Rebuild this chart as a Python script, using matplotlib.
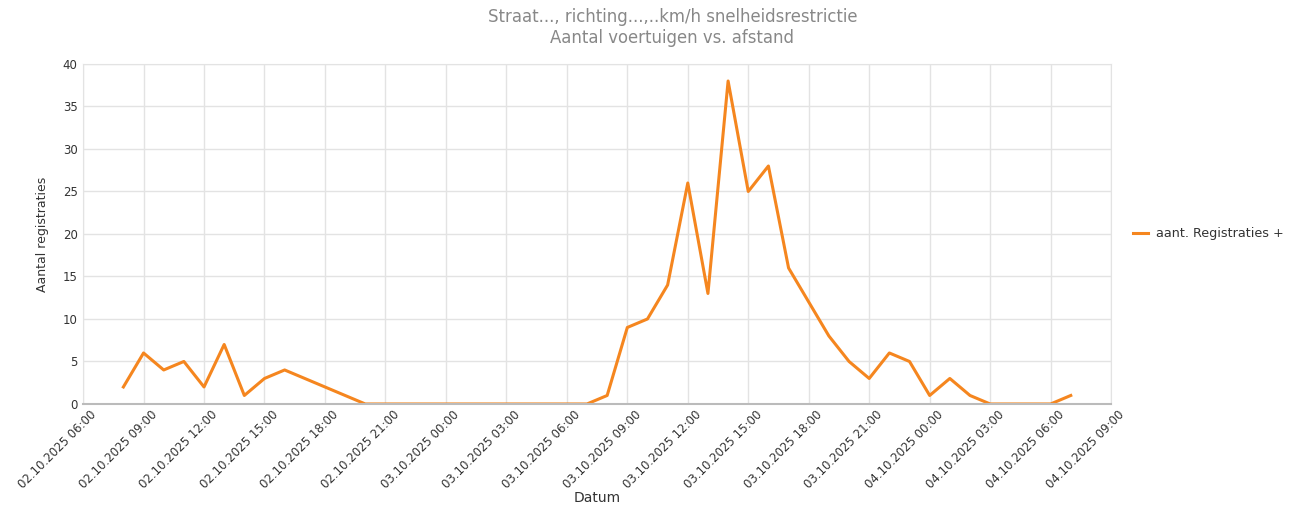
import numpy as np
import pandas as pd
import matplotlib
matplotlib.use("Agg")
import matplotlib.pyplot as plt
import matplotlib.dates as mdates
from matplotlib.transforms import ScaledTranslation

# hourly registrations, 02.10.2025 08:00 .. 04.10.2025 07:00
start = "2025-10-02 08:00"
counts = [2, 6, 4, 5, 2, 7, 1, 3, 4, 3, 2, 1, 0,          # 08:00 - 20:00
          0, 0, 0, 0, 0, 0, 0, 0, 0, 0, 0,                # 21:00 - 07:00
          1, 9, 10, 14, 26, 13, 38, 25, 28, 16, 12, 8, 5,  # 03.10 08:00 - 20:00
          3, 6, 5, 1, 3, 1, 0, 0, 0, 0, 1]                 # 21:00 - 04.10 07:00
times = pd.date_range(start, periods=len(counts), freq="h")

title = "Straat..., richting...,..km/h snelheidsrestrictie\nAantal voertuigen vs. afstand"
series_name = "aant. Registraties +"
x_min = pd.Timestamp("2025-10-02 06:00")
x_max = pd.Timestamp("2025-10-04 09:00")
y_ticks = [0, 5, 10, 15, 20, 25, 30, 35, 40]

fig = plt.figure(figsize=(12.98, 5.12), dpi=100)
ax = fig.add_axes([0.064, 0.211, 0.792, 0.664])

ax.plot(times, counts, color="#f5861f", lw=2.2, label=series_name)

ax.set_xlim(x_min, x_max)
ax.set_ylim(0, 40)
ax.set_yticks(y_ticks)
ax.xaxis.set_major_locator(mdates.HourLocator(byhour=range(0, 24, 3)))
ax.xaxis.set_major_formatter(mdates.DateFormatter("%d.%m.%Y %H:%M"))
ax.tick_params(axis="both", labelsize=8.5, colors="#333333", length=0, pad=4)
ax.tick_params(axis="x", pad=6)
shift = ScaledTranslation(7 / 100, 4 / 100, fig.dpi_scale_trans)
for lab in ax.get_xticklabels():
    lab.set_rotation(45)
    lab.set_ha("right")
    lab.set_rotation_mode("anchor")
    lab.set_transform(lab.get_transform() + shift)

ax.grid(True, color="#e3e3e3", lw=1)
ax.set_axisbelow(True)
for s in ["top", "right", "left"]:
    ax.spines[s].set_color("#e3e3e3")
ax.spines["bottom"].set_color("#bbbbbb")
ax.spines["bottom"].set_linewidth(1.5)

ax.set_ylabel("Aantal registraties", fontsize=9, color="#333333", labelpad=10)
ax.set_xlabel("Datum", fontsize=10, color="#333333", labelpad=0)
fig.suptitle(title, fontsize=11.9, color="#888888", x=0.518, y=0.985,
             linespacing=1.25)

ax.legend(loc="center left", bbox_to_anchor=(1.01, 0.5), frameon=False,
          fontsize=9.2, handlelength=1.2, handletextpad=0.6, labelcolor="#333333")

fig.savefig("out.png", dpi=100)
